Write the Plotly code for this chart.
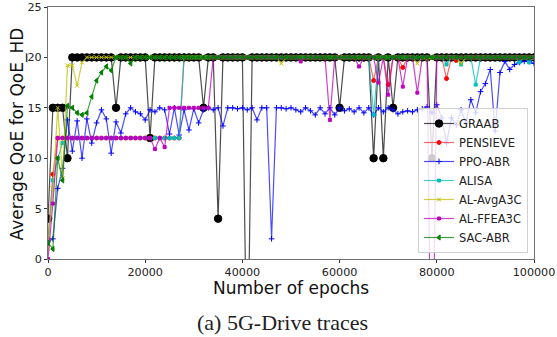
import plotly.graph_objects as go

epochs = list(range(0, 100001, 1000))

graab = [4, 15, 15, 15, 10] + [20]*9 + [15] + [20]*6 + [12] + [20]*10 + [15, 20, 20, 4] + [20]*5 + [-14] + \
        [20]*18 + [15] + [20]*6 + [10, 20, 10, 20, 15] + [20]*7 + [10] + [20]*21

pensieve = [2, 8.4] + [12]*26 + [20]*39 + [17.7, 20, 20, 17.3, 20, 20, 19.0] + [20]*8 + [17.9, 20, 19.7] + [20]*16

alisa = [1.5, 7.8, 10, 11.5] + [12]*24 + [20]*39 + [14.3] + [20]*14 + [19.3, 20, 20, 19.3, 20, 20, 17.3] + \
        [20]*8 + [19.5, 20, 19.5, 20]

avga3c = [1, 7, 15, 8, 19.2, 19.2, 17.2, 19.5] + [20]*40 + [19.4] + [20]*27 + [19.4, 20, 19.8] + [20]*6 + [19.4] + [20]*15

ffea3c = [0, 5.5] + [12]*20 + [10.9, 12, 11.1] + [15]*9 + [20]*18 + [19.6] + [20]*5 + [13.8] + [20]*5 + [19.1] + \
         [20]*3 + [17.5, 20, 16.3, 20, 20, 17.1, 20, 20, 16.5, 20, 20, -20] + [20]*21

sac = [1.6, 1.0, 10, 7.8, 15.2, 15.0, 14.5, 14.3, 14.5, 16.1, 17.7, 18.5, 19.1, 18.7, 20, 20, 20, 19.4] + [20]*83

ppo = [1.7, 2.0, 7.0, 9.0, 13.8, 10.7, 13.7, 10.0, 13.9, 11.5,
       13.5, 14.8, 13.9, 10.5, 13.6, 12.5, 14.4, 15.0, 14.6, 14.4,
       13.8, 14.8, 14.6, 15.0, 14.8, 12.4, 15.0, 12.3, 14.8, 12.8,
       14.9, 13.5, 14.8, 15.0, 14.8, 15.0, 13.2, 15.0, 15.0, 14.9,
       15.0, 14.8, 15.0, 13.8, 15.0, 15.0, 2.0, 15.0, 15.0, 14.9,
       15.0, 14.8, 14.6, 15.0, 14.7, 14.3, 15.0, 14.4, 15.0, 14.3,
       15.0, 14.7, 14.9, 14.6, 15.0, 14.5, 15.0, 14.3, 15.0, 14.6,
       15.0, 14.8, 14.4, 14.6, 14.7, 14.6, 14.8, 14.9, 15.1, 14.5,
       15.3, 14.0, 11.5, 14.0, 13.3, 14.8, 13.5, 15.8, 14.5, 16.6,
       17.4, 18.8, 12.7, 18.5, 19.6, 18.8, 19.3, 19.5, 19.6, 19.6, 19.4]

series = [
    ("GRAAB", graab, "rgba(0,0,0,0.7)", "black", "circle", 7.5),
    ("PENSIEVE", pensieve, "rgba(255,0,0,0.6)", "red", "circle", 4),
    ("PPO-ABR", ppo, "rgba(0,0,255,0.7)", "blue", "cross-thin", 4),
    ("ALISA", alisa, "rgba(0,191,191,0.75)", "rgb(0,191,191)", "square", 3),
    ("AL-AvgA3C", avga3c, "rgba(191,191,0,0.75)", "rgb(191,191,0)", "x-thin", 4),
    ("AL-FFEA3C", ffea3c, "rgba(191,0,191,0.75)", "rgb(191,0,191)", "square", 3),
    ("SAC-ABR", sac, "rgba(0,128,0,0.75)", "rgb(0,128,0)", "triangle-left", 4.5),
]

fig = go.Figure()
for name, vals, lc, mc, sym, ms in series:
    fig.add_trace(go.Scatter(
        x=epochs, y=vals, name=name, mode="lines+markers",
        line=dict(color=lc, width=1.2),
        marker=dict(color=mc, symbol=sym, size=ms, line=dict(color=mc, width=1)),
    ))

W, H = 557, 337
L, R, T, B = 48, 534, 7, 259
tickfont = dict(family="DejaVu Sans", size=11.2, color="#222")

fig.update_layout(
    width=W, height=H,
    margin=dict(l=L, r=W - R, t=T, b=H - B, autoexpand=False),
    paper_bgcolor="white", plot_bgcolor="white",
    showlegend=True,
    legend=dict(
        x=(528 - L) / (R - L), y=(B - 253) / (B - T),
        xanchor="right", yanchor="bottom",
        bgcolor="rgba(255,255,255,0.8)", bordercolor="#d0d0d0", borderwidth=1,
        font=dict(family="DejaVu Sans", size=11.5, color="#222"),
        itemwidth=30, tracegroupgap=0,
    ),
    xaxis=dict(range=[0, 100000], tickvals=[0, 20000, 40000, 60000, 80000, 100000],
               ticktext=["0", "20000", "40000", "60000", "80000", "100000"], automargin=False,
               showgrid=False, zeroline=False, showline=True, linecolor="#707070", linewidth=1,
               mirror=True, ticks="outside", ticklen=3, tickcolor="#333", tickfont=tickfont),
    yaxis=dict(range=[0, 25], tickvals=[0, 5, 10, 15, 20, 25], automargin=False,
               showgrid=False, zeroline=False, showline=True, linecolor="#707070", linewidth=1,
               mirror=True, ticks="outside", ticklen=3, tickcolor="#333", tickfont=tickfont),
    annotations=[
        dict(text="Number of epochs", xref="paper", yref="paper",
             x=0.5, y=(B - 288) / (B - T), xanchor="center", yanchor="middle",
             showarrow=False, font=dict(family="DejaVu Sans", size=17, color="#111")),
        dict(text="Average QoE for QoE_HD", xref="paper", yref="paper",
             x=(16.5 - L) / (R - L), y=(B - 134) / (B - T), xanchor="center", yanchor="middle",
             textangle=-90, showarrow=False, font=dict(family="DejaVu Sans", size=17, color="#111")),
        dict(text="(a) 5G-Drive traces", xref="paper", yref="paper",
             x=(282 - L) / (R - L), y=(B - 322) / (B - T), xanchor="center", yanchor="middle",
             showarrow=False, font=dict(family="Liberation Serif", size=22, color="#222")),
    ],
)

fig.write_html("out.html", config={"displayModeBar": False},
               post_script="document.body.style.margin='0';document.body.style.overflow='hidden';")
